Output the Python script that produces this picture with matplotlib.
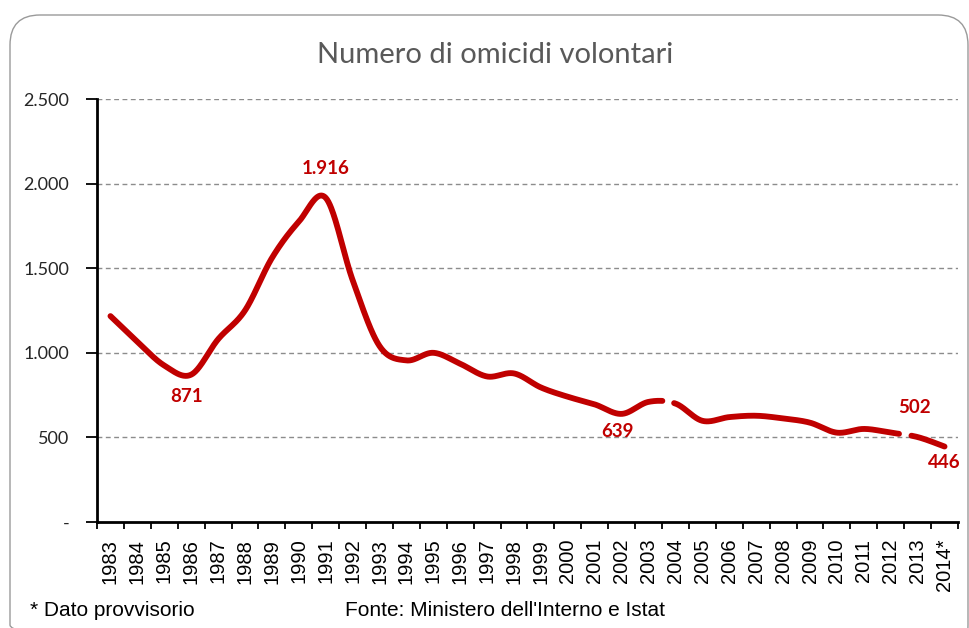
import numpy as np
import matplotlib
matplotlib.use('Agg')
import matplotlib.pyplot as plt
from matplotlib.patches import FancyBboxPatch

# data
years = ['1983', '1984', '1985', '1986', '1987', '1988', '1989', '1990', '1991',
         '1992', '1993', '1994', '1995', '1996', '1997', '1998', '1999', '2000',
         '2001', '2002', '2003', '2004', '2005', '2006', '2007', '2008', '2009',
         '2010', '2011', '2012', '2013', '2014*']
omicidi = [1217, 1065, 925, 871, 1080, 1250, 1560, 1775, 1916,
           1430, 1040, 955, 1000, 935, 860, 878, 795, 740,
           695, 639, 710, 700, 598, 620, 628, 612, 587,
           528, 550, 528, 502, 446]

# points that get a data label: (index, text)
labelled = [(3, '871'), (8, '1.916'), (19, '639'), (30, '502'), (31, '446')]

y_ticks = [0, 500, 1000, 1500, 2000, 2500]
y_ticklabels = ['-', '500', '1.000', '1.500', '2.000', '2.500']

RED = '#C00000'
GREY = '#595959'


def smooth(x, y, n=40):
    # Excel-like smoothed line (Catmull-Rom through bezier control points)
    p = np.column_stack([x, y]).astype(float)
    p = np.vstack([p[0], p, p[-1]])
    xs, ys, seg, ts = [], [], [], []
    t = np.linspace(0, 1, n)
    for i in range(1, len(p) - 2):
        p0, p1, p2, p3 = p[i - 1], p[i], p[i + 1], p[i + 2]
        c1 = p1 + (p2 - p0) / 6.0
        c2 = p2 - (p3 - p1) / 6.0
        b = (((1 - t) ** 3)[:, None] * p1 + (3 * (1 - t) ** 2 * t)[:, None] * c1
             + (3 * (1 - t) * t ** 2)[:, None] * c2 + (t ** 3)[:, None] * p2)
        xs.append(b[:, 0]); ys.append(b[:, 1])
        seg.append(np.full(n, i - 1)); ts.append(t)
    return (np.concatenate(xs), np.concatenate(ys),
            np.concatenate(seg), np.concatenate(ts))


fig = plt.figure(figsize=(9.7, 6.28), dpi=100)

# rounded chart frame
bg = fig.add_axes([0, 0, 1, 1], zorder=0)
bg.set_xlim(0, 970)
bg.set_ylim(628, 0)
bg.axis('off')
bg.add_patch(FancyBboxPatch((10, 15), 958, 640,
                            boxstyle='round,pad=0,rounding_size=30',
                            fill=False, edgecolor='#9a9a9a', linewidth=1.0))

ax = fig.add_axes([97 / 970, 1 - 522 / 628, 861 / 970, 423 / 628], zorder=1)
ax.patch.set_alpha(0)

x = np.arange(len(years)) + 0.5
sx, sy, seg, ts = smooth(x, omicidi)

# small breaks in the line (2003-2004 and 2012-2013)
gaps = [(20, 0.52, 0.93), (29, 0.32, 0.76)]
for g, a, b in gaps:
    m = (seg == g) & (ts > a) & (ts < b)
    sy[m] = np.nan

ax.plot(sx, sy, color=RED, linewidth=4.2, solid_capstyle='round',
        solid_joinstyle='round', zorder=3)

# data labels
offsets = {3: (-3, -16), 8: (0, 21), 19: (-3, -13), 30: (-2.5, 21), 31: (0, -11.5)}
for i, txt in labelled:
    dx, dy = offsets[i]
    ax.annotate(txt, (x[i], omicidi[i]), xytext=(dx, dy), textcoords='offset points',
                ha='center', va='center', color=RED, fontsize=13.5,
                fontfamily='Lato', fontweight='bold')

ax.set_xlim(0, len(years))
ax.set_ylim(0, 2500)

# y axis
ax.set_yticks(y_ticks)
ax.set_yticklabels(y_ticklabels, fontfamily='Lato', fontsize=13, color='#262626')
ax.tick_params(axis='y', direction='out', length=8, width=1.3, pad=12)
for yv in y_ticks[1:]:
    ax.axhline(yv, color='#8c8c8c', linewidth=1.0, linestyle=(0, (3.5, 2.5)), zorder=1)

# x axis: ticks on category borders, labels in the middle
ax.set_xticks(np.arange(len(years) + 1))
ax.set_xticklabels([])
ax.tick_params(axis='x', which='major', direction='out', length=5, width=1.3)
ax.set_xticks(x, minor=True)
ax.set_xticklabels(years, minor=True, rotation=90, ha='center', va='top',
                   fontfamily='Liberation Sans', fontsize=14.5)
ax.tick_params(axis='x', which='minor', length=0, pad=12)

for s in ['top', 'right']:
    ax.spines[s].set_visible(False)
for s in ['left', 'bottom']:
    ax.spines[s].set_linewidth(2.0)
    ax.spines[s].set_color('black')

fig.text(495 / 970, 1 - 55 / 628, 'Numero di omicidi volontari', ha='center', va='center',
         fontsize=21, color=GREY, fontfamily='Lato', fontweight='normal')
fig.text(30 / 970, 1 - 611 / 628, '* Dato provvisorio', ha='left', va='center',
         fontsize=15, fontfamily='Liberation Sans', color='black')
fig.text(345 / 970, 1 - 610 / 628, "Fonte: Ministero dell'Interno e Istat", ha='left',
         va='center', fontsize=15, fontfamily='Liberation Sans', color='black')

fig.savefig('out.png', dpi=100, facecolor='white')
